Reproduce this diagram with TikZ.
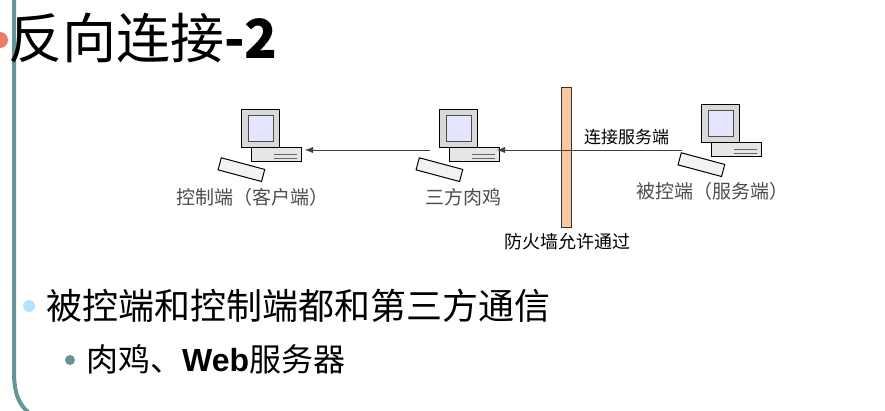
\documentclass[tikz,border=0pt]{standalone}
\usepackage{fontspec}
\setmainfont{Liberation Sans}
\newfontfamily\cjk{Noto Sans CJK SC}
\usetikzlibrary{arrows.meta}
\definecolor{rim}{RGB}{100,150,150}
\definecolor{wall}{RGB}{250,200,160}
\tikzset{
  lbl/.style={font=\cjk\fontsize{19}{22}\selectfont,text=black!70},
  link/.style={draw=black!75,-{Latex[length=8pt,width=6pt]}},
}
% simple desktop computer, #1 = name, #2 = centre
\newcommand\pcicon[2]{
  \begin{scope}[shift={#2},scale=1.25]
    \coordinate (#1) at (0,0);
    \filldraw[draw=black,fill=black!10,line width=1pt] (-10,-14) rectangle (30,-3);
    \draw[black!60] (8,-8) -- (26,-8) (8,-11) -- (26,-11);
    \filldraw[draw=black,fill=black!15,line width=1pt] (-18,-3) rectangle (12,28);
    \filldraw[draw=black!70,fill=blue!10] (-13,2) rectangle (7,23);
    \filldraw[draw=black,fill=black!5,line width=1pt,rotate around={-15:(-20,-20)}] (-36,-25) rectangle (0,-15);
  \end{scope}
}
\begin{document}
\begin{tikzpicture}[x=1pt,y=1pt]
\useasboundingbox (0,0) rectangle (885,-410);
% slide frame
\draw[rim,line width=4pt] (14,0) -- (14,-372) .. controls (14,-395) and (20,-405) .. (28,-412);
\fill[red!45!brown!70] (0,-40) circle (8);
\node[anchor=west,inner sep=0,font=\cjk\fontsize{54}{60}\selectfont] (title) at (8,-38) {反向连接\textbf{-2}};
% computers
\pcicon{client}{(264,-144)}
\pcicon{zombie}{(462,-144)}
\pcicon{server}{(724,-139)}
\node[lbl] (clientlbl) at (252,-197) {控制端（客户端）};
\node[lbl] (zombielbl) at (463,-197) {三方肉鸡};
\node[lbl] (serverlbl) at (712,-191) {被控端（服务端）};
% firewall
\filldraw[draw=black!80,fill=wall] (561,-87) rectangle (571,-227);
\node[font=\cjk\fontsize{18}{20}\selectfont] (walllbl) at (567,-242) {防火墙允许通过};
\coordinate (srvout) at (682,-150);
\coordinate (zin) at (497,-150);
\coordinate (zout) at (430,-150);
\coordinate (cin) at (305,-150);
\draw[link] (srvout) -- node[pos=0.3,above=2pt,font=\cjk\fontsize{17}{19}\selectfont] (linklbl) {连接服务端} (zin);
\draw[link] (zout) -- (cin);
% bullets
\fill[blue!35!cyan!30] (29,-306) circle (6);
\node[anchor=west,inner sep=0,font=\cjk\fontsize{36}{40}\selectfont] (item1) at (46,-306) {被控端和控制端都和第三方通信};
\fill[rim] (70,-360) circle (5);
\node[anchor=west,inner sep=0,font=\cjk\fontsize{32}{36}\selectfont] (item2) at (86,-359) {肉鸡、{\rmfamily\bfseries Web}服务器};
\end{tikzpicture}
\end{document}
